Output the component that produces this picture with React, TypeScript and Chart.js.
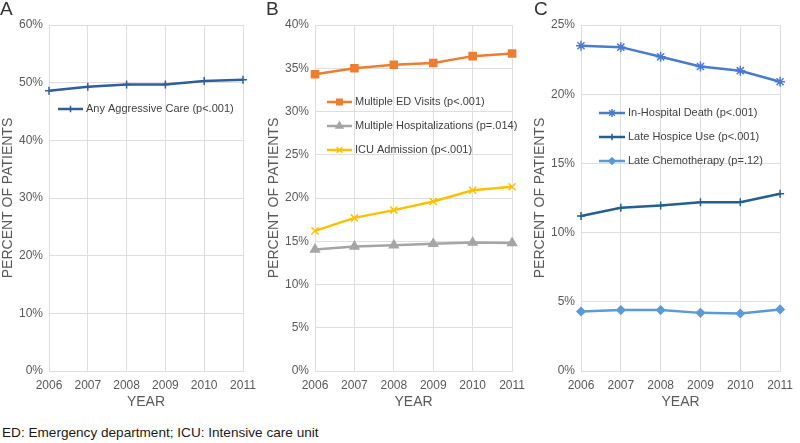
import React, { useEffect, useRef } from 'react';
import { Chart, registerables } from 'chart.js';
import { drawPoint } from 'chart.js/helpers';

Chart.register(...registerables);

const years = ['2006', '2007', '2008', '2009', '2010', '2011'];
const anyAggressive = [48.6, 49.3, 49.7, 49.7, 50.3, 50.5];
const edVisits = [34.3, 35.0, 35.4, 35.6, 36.4, 36.7];
const hospitalizations = [14.05, 14.4, 14.55, 14.7, 14.85, 14.8];
const icuAdmission = [16.2, 17.7, 18.6, 19.6, 20.9, 21.3];
const inHospitalDeath = [23.5, 23.4, 22.7, 22.0, 21.7, 20.9];
const lateHospice = [11.2, 11.8, 11.95, 12.2, 12.2, 12.8];
const lateChemo = [4.3, 4.4, 4.4, 4.2, 4.15, 4.45];

const FONT = '"Liberation Sans", Arial, Helvetica, sans-serif';
const GRID = '#dedede';
const TICK = '#595959';

const insideLegend = {
  id: 'insideLegend',
  afterDatasetsDraw(chart: any, _args: any, opts: any) {
    const ctx = chart.ctx;
    ctx.save();
    chart.data.datasets.forEach((ds: any, i: number) => {
      const y = opts.y + i * opts.gap;
      ctx.strokeStyle = ds.borderColor;
      ctx.lineWidth = ds.borderWidth;
      ctx.beginPath();
      ctx.moveTo(opts.x, y);
      ctx.lineTo(opts.x + opts.len, y);
      ctx.stroke();
      ctx.fillStyle = ds.pointBackgroundColor;
      ctx.strokeStyle = ds.pointBorderColor;
      ctx.lineWidth = ds.pointBorderWidth;
      drawPoint(ctx, { pointStyle: ds.pointStyle, rotation: 0, radius: ds.pointRadius * 0.8, borderWidth: ds.pointBorderWidth } as any, opts.x + opts.len / 2, y);
      ctx.fillStyle = '#404040';
      ctx.font = '11px ' + FONT;
      ctx.textBaseline = 'middle';
      ctx.textAlign = 'left';
      ctx.fillText(ds.label, opts.x + opts.len + 3, y);
    });
    ctx.restore();
  },
};

function mkDs(label: string, data: number[], color: string, pointStyle: string, radius: number) {
  return {
    label,
    data,
    borderColor: color,
    backgroundColor: color,
    borderWidth: 2.5,
    pointStyle,
    pointRadius: radius,
    pointBackgroundColor: color,
    pointBorderColor: color,
    pointBorderWidth: 1.5,
    tension: 0,
  };
}

type PanelProps = {
  left: number;
  width: number;
  padRight: number;
  yMax: number;
  step: number;
  datasets: any[];
  legend: { x: number; y: number; gap: number; len: number };
};

function Panel({ left, width, padRight, yMax, step, datasets, legend }: PanelProps) {
  const ref = useRef<HTMLCanvasElement>(null);
  useEffect(() => {
    if (!ref.current) return;
    const chart = new Chart(ref.current, {
      type: 'line',
      data: { labels: years, datasets },
      options: {
        responsive: false,
        maintainAspectRatio: false,
        animation: false,
        layout: { padding: { top: 25, right: padRight, bottom: 4, left: 0 } },
        plugins: {
          legend: { display: false },
          tooltip: { enabled: false },
          insideLegend: legend,
        } as any,
        scales: {
          x: {
            grid: { color: GRID, drawTicks: false },
            border: { color: GRID },
            ticks: { color: TICK, font: { size: 12, family: FONT }, padding: 7, maxRotation: 0, autoSkip: false },
            title: { display: true, text: 'YEAR', color: TICK, font: { size: 14, family: FONT }, padding: { top: 0, bottom: 0 } },
            afterFit(s: any) { s.height = 40; },
          },
          y: {
            min: 0,
            max: yMax,
            grid: { color: GRID, drawTicks: false },
            border: { color: GRID },
            ticks: { stepSize: step, color: TICK, font: { size: 12, family: FONT }, padding: 6, callback: (v: any) => v + '%' },
            title: { display: true, text: 'PERCENT OF PATIENTS', color: TICK, font: { size: 14, family: FONT }, padding: { top: 0, bottom: 0 } },
            afterFit(s: any) { s.width = 49; },
          },
        },
      },
      plugins: [insideLegend],
    } as any);
    return () => chart.destroy();
  }, []);
  return (
    <canvas
      ref={ref}
      width={width}
      height={415}
      style={{ position: 'absolute', left, top: 0, width, height: 415 }}
    />
  );
}

const letterStyle: React.CSSProperties = {
  position: 'absolute',
  top: -1,
  fontFamily: FONT,
  fontSize: 19,
  lineHeight: '19px',
  color: '#333',
};

export default function App() {
  return (
    <div style={{ position: 'absolute', left: 0, top: 0, width: 800, height: 443, background: '#fff', overflow: 'hidden' }}>
      <Panel
        left={0}
        width={266}
        padRight={23}
        yMax={60}
        step={10}
        datasets={[mkDs('Any Aggressive Care (p<.001)', anyAggressive, '#2e5e9c', 'cross', 4)]}
        legend={{ x: 58, y: 109, gap: 24, len: 25 }}
      />
      <Panel
        left={266}
        width={266}
        padRight={19}
        yMax={40}
        step={5}
        datasets={[
          mkDs('Multiple ED Visits (p<.001)', edVisits, '#ed7d31', 'rect', 5),
          mkDs('Multiple Hospitalizations (p=.014)', hospitalizations, '#a5a5a5', 'triangle', 5),
          mkDs('ICU Admission (p<.001)', icuAdmission, '#ffc000', 'crossRot', 5),
        ]}
        legend={{ x: 61, y: 102, gap: 24, len: 25 }}
      />
      <Panel
        left={532}
        width={268}
        padRight={14}
        yMax={25}
        step={5}
        datasets={[
          mkDs('In-Hospital Death (p<.001)', inHospitalDeath, '#4a7bd0', 'star', 5),
          mkDs('Late Hospice Use (p<.001)', lateHospice, '#255e91', 'cross', 4),
          mkDs('Late Chemotherapy (p=.12)', lateChemo, '#5b9bd5', 'rectRot', 4),
        ]}
        legend={{ x: 67, y: 113, gap: 24, len: 26 }}
      />
      <div style={{ ...letterStyle, left: 0 }}>A</div>
      <div style={{ ...letterStyle, left: 266 }}>B</div>
      <div style={{ ...letterStyle, left: 534 }}>C</div>
      <div
        style={{
          position: 'absolute',
          left: 2,
          top: 425,
          fontFamily: FONT,
          fontSize: 13.6,
          lineHeight: '16px',
          color: '#1a1a1a',
          whiteSpace: 'nowrap',
        }}
      >
        ED: Emergency department; ICU: Intensive care unit
      </div>
    </div>
  );
}
